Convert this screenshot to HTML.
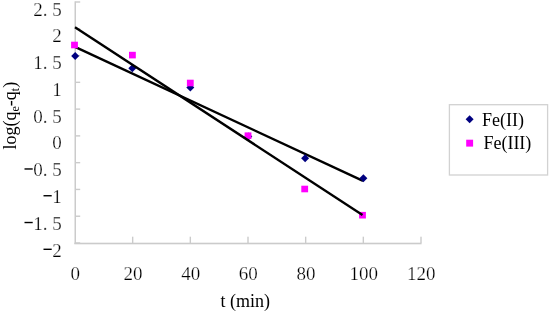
<!DOCTYPE html>
<html><head><meta charset="utf-8"><style>
html,body{margin:0;padding:0;background:#fff;width:550px;height:313px;overflow:hidden}
svg{display:block;filter:blur(0.35px)}
.t{font-family:"Liberation Serif",serif;font-size:19px;fill:#000;stroke:#fff;stroke-width:0.25px}
.L{font-family:"Liberation Serif",serif;font-size:18px;fill:#000}
</style></head><body>
<svg width="550" height="313" viewBox="0 0 550 313">
<rect x="74.5" y="1.3" width="1.5" height="242.5" fill="#cbcbcb"/>
<rect x="74.3" y="242.7" width="347.3" height="1.6" fill="#cbcbcb"/>
<rect x="75.5" y="1.30" width="4.7" height="1.4" fill="#cbcbcb"/>
<rect x="75.5" y="28.08" width="4.7" height="1.4" fill="#cbcbcb"/>
<rect x="75.5" y="54.86" width="4.7" height="1.4" fill="#cbcbcb"/>
<rect x="75.5" y="81.63" width="4.7" height="1.4" fill="#cbcbcb"/>
<rect x="75.5" y="108.41" width="4.7" height="1.4" fill="#cbcbcb"/>
<rect x="75.5" y="135.19" width="4.7" height="1.4" fill="#cbcbcb"/>
<rect x="75.5" y="161.97" width="4.7" height="1.4" fill="#cbcbcb"/>
<rect x="75.5" y="188.74" width="4.7" height="1.4" fill="#cbcbcb"/>
<rect x="75.5" y="215.52" width="4.7" height="1.4" fill="#cbcbcb"/>
<rect x="75.5" y="242.30" width="4.7" height="1.4" fill="#cbcbcb"/>
<rect x="131.97" y="236.7" width="1.4" height="6.3" fill="#cbcbcb"/>
<rect x="189.63" y="236.7" width="1.4" height="6.3" fill="#cbcbcb"/>
<rect x="247.30" y="236.7" width="1.4" height="6.3" fill="#cbcbcb"/>
<rect x="304.97" y="236.7" width="1.4" height="6.3" fill="#cbcbcb"/>
<rect x="362.63" y="236.7" width="1.4" height="6.3" fill="#cbcbcb"/>
<rect x="420.30" y="236.7" width="1.4" height="6.3" fill="#cbcbcb"/>
<text x="61.8" y="15.54" text-anchor="end" class="t">2.&#160;5</text>
<text x="61.8" y="42.32" text-anchor="end" class="t">2</text>
<text x="61.8" y="69.10" text-anchor="end" class="t">1.&#160;5</text>
<text x="61.8" y="95.88" text-anchor="end" class="t">1</text>
<text x="61.8" y="122.66" text-anchor="end" class="t">0.&#160;5</text>
<text x="61.8" y="149.43" text-anchor="end" class="t">0</text>
<text x="61.8" y="176.21" text-anchor="end" class="t">0.&#160;5</text>
<rect x="24.50" y="168.27" width="8.2" height="1.4" fill="#000"/>
<text x="61.8" y="202.99" text-anchor="end" class="t">1</text>
<rect x="43.50" y="195.04" width="8.2" height="1.4" fill="#000"/>
<text x="61.8" y="229.77" text-anchor="end" class="t">1.&#160;5</text>
<rect x="24.50" y="221.82" width="8.2" height="1.4" fill="#000"/>
<text x="61.8" y="256.54" text-anchor="end" class="t">2</text>
<rect x="43.50" y="248.60" width="8.2" height="1.4" fill="#000"/>
<text x="75.30" y="279.60" text-anchor="middle" class="t">0</text>
<text x="132.97" y="279.60" text-anchor="middle" class="t">20</text>
<text x="190.63" y="279.60" text-anchor="middle" class="t">40</text>
<text x="248.30" y="279.60" text-anchor="middle" class="t">60</text>
<text x="305.97" y="279.60" text-anchor="middle" class="t">80</text>
<text x="363.63" y="279.60" text-anchor="middle" class="t">100</text>
<text x="421.30" y="279.60" text-anchor="middle" class="t">120</text>
<line x1="75" y1="46.9" x2="363" y2="180.9" stroke="#000" stroke-width="2.4"/>
<path d="M75.2 52.0L79.2 56.0L75.2 60.0L71.2 56.0Z" fill="#000080"/>
<path d="M132.3 64.2L136.3 68.2L132.3 72.2L128.3 68.2Z" fill="#000080"/>
<path d="M190.3 83.5L194.3 87.5L190.3 91.5L186.3 87.5Z" fill="#000080"/>
<path d="M248.3 132.4L252.3 136.4L248.3 140.4L244.3 136.4Z" fill="#000080"/>
<path d="M305.1 154.2L309.1 158.2L305.1 162.2L301.1 158.2Z" fill="#000080"/>
<path d="M363.4 174.2L367.4 178.2L363.4 182.2L359.4 178.2Z" fill="#000080"/>
<rect x="71.1" y="41.7" width="6.8" height="6.6" fill="#ff00ff"/>
<rect x="129.0" y="51.8" width="6.8" height="6.6" fill="#ff00ff"/>
<rect x="186.9" y="79.7" width="6.8" height="6.6" fill="#ff00ff"/>
<rect x="244.6" y="132.4" width="6.8" height="6.6" fill="#ff00ff"/>
<rect x="301.3" y="185.7" width="6.8" height="6.6" fill="#ff00ff"/>
<rect x="359.1" y="211.9" width="6.8" height="6.6" fill="#ff00ff"/>
<line x1="75" y1="27.3" x2="362.5" y2="215" stroke="#000" stroke-width="2.4"/>
<rect x="449.4" y="104.7" width="98.2" height="70.3" fill="none" stroke="#d2d2d2" stroke-width="1.3"/>
<path d="M469.6 115.3L473.6 119.3L469.6 123.3L465.6 119.3Z" fill="#000080"/>
<rect x="466.2" y="139.7" width="6.9" height="6.9" fill="#ff00ff"/>
<text x="482" y="125.6" class="L">Fe(II)</text>
<text x="483.4" y="149.2" class="L">Fe(III)</text>
<text x="220.5" y="306.9" class="L">t (min)</text>
<text transform="translate(16.3 149.5) rotate(-90)" class="L">log(q<tspan font-size="12" dy="3">e</tspan><tspan dy="-3">-q</tspan><tspan font-size="12" dy="3">t</tspan><tspan dy="-3">)</tspan></text>
</svg>
</body></html>
